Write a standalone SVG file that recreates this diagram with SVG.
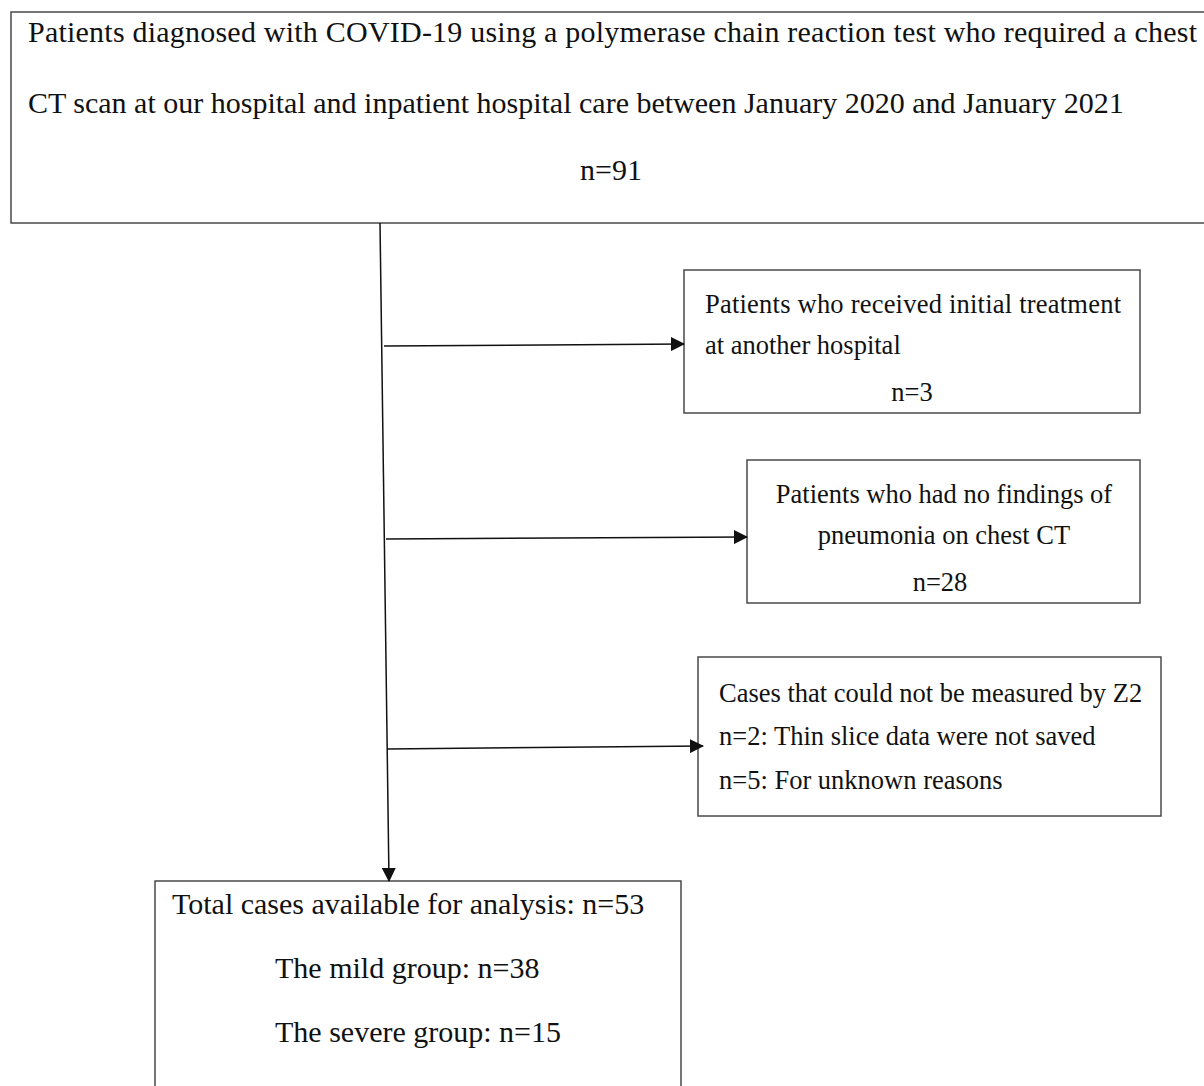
<svg xmlns="http://www.w3.org/2000/svg" width="1204" height="1086" viewBox="0 0 1204 1086">
<style>
.box{fill:#fff;stroke:#4a4a4a;stroke-width:1.5}
.t{font-family:"Liberation Serif","Times New Roman",serif;fill:#111}
.big{font-size:30px}
.mid{font-size:26.5px}
.conn{stroke:#111;stroke-width:1.5;fill:none}
</style>
<defs>
<marker id="ah" markerWidth="14" markerHeight="14" refX="13" refY="7" orient="auto" markerUnits="userSpaceOnUse">
<path d="M0,0 L14,7 L0,14 Z" fill="#111"/>
</marker>
</defs>
<rect width="1204" height="1086" fill="#fff"/>
<g id="n-top">
<path class="box" d="M1210,12 H11 V223 H1210"/>
<text class="t big" x="28" y="42" textLength="1169" lengthAdjust="spacing">Patients diagnosed with COVID-19 using a polymerase chain reaction test who required a chest</text>
<text class="t big" x="28" y="113">CT scan at our hospital and inpatient hospital care between January 2020 and January 2021</text>
<text class="t big" x="611" y="180" text-anchor="middle">n=91</text>
</g>
<g id="n-excl1">
<rect class="box" x="684" y="270" width="456" height="143"/>
<text class="t mid" x="705" y="313" textLength="416" lengthAdjust="spacing">Patients who received initial treatment</text>
<text class="t mid" x="705" y="354">at another hospital</text>
<text class="t mid" x="912" y="401" text-anchor="middle">n=3</text>
</g>
<g id="n-excl2">
<rect class="box" x="747" y="460" width="393" height="143"/>
<text class="t mid" x="944" y="503" text-anchor="middle">Patients who had no findings of</text>
<text class="t mid" x="944" y="544" text-anchor="middle">pneumonia on chest CT</text>
<text class="t mid" x="940" y="591" text-anchor="middle">n=28</text>
</g>
<g id="n-excl3">
<rect class="box" x="698" y="657" width="463" height="159"/>
<text class="t mid" x="719" y="702">Cases that could not be measured by Z2</text>
<text class="t mid" x="719" y="745">n=2: Thin slice data were not saved</text>
<text class="t mid" x="719" y="789">n=5: For unknown reasons</text>
</g>
<g id="n-final">
<path class="box" d="M155,1090 V881 H681 V1090"/>
<text class="t big" x="172" y="914">Total cases available for analysis: n=53</text>
<text class="t big" x="275" y="978">The mild group: n=38</text>
<text class="t big" x="275" y="1042">The severe group: n=15</text>
</g>
<g id="connectors">
<line class="conn" x1="380" y1="223" x2="389" y2="881" marker-end="url(#ah)"/>
<line class="conn" x1="384" y1="346" x2="684" y2="344" marker-end="url(#ah)"/>
<line class="conn" x1="386" y1="539" x2="747" y2="537" marker-end="url(#ah)"/>
<line class="conn" x1="387" y1="749" x2="703" y2="746" marker-end="url(#ah)"/>
</g>
</svg>
